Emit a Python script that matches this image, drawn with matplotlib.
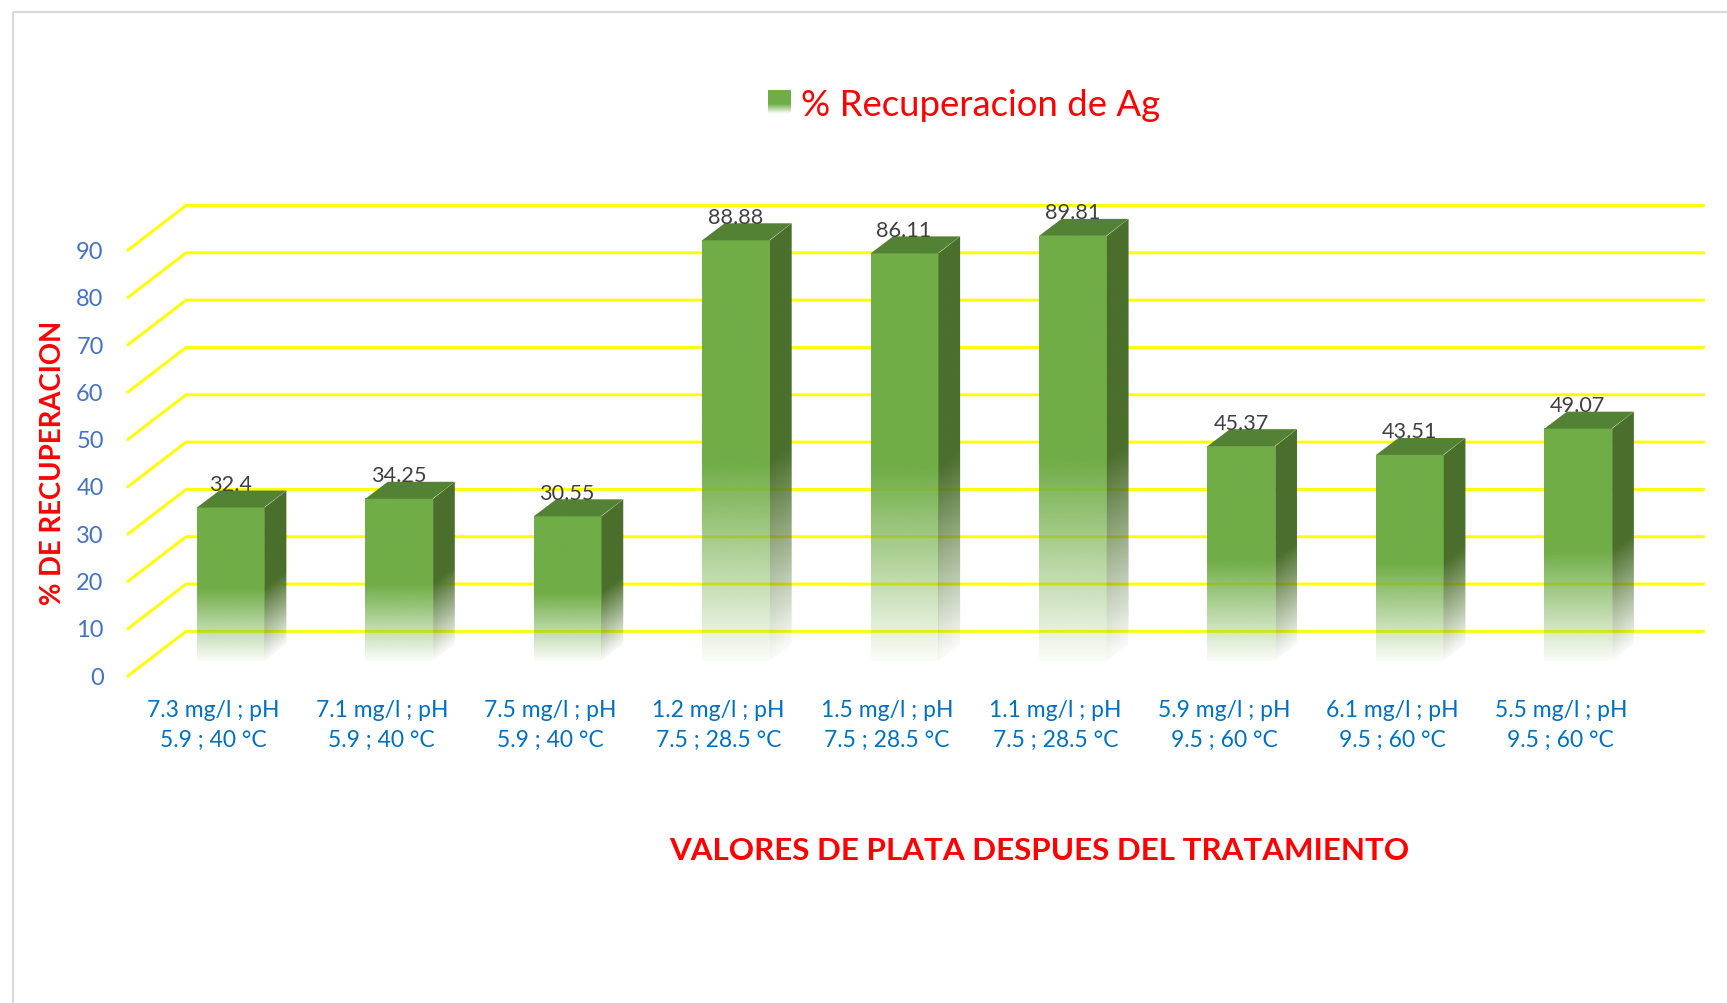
import matplotlib
matplotlib.use('Agg')
import matplotlib.pyplot as plt
from matplotlib.legend_handler import HandlerBase
from matplotlib.lines import Line2D
from matplotlib.patches import Patch, Polygon, Rectangle
import numpy as np

categories = [
    '7.3 mg/l ; pH\n5.9 ; 40 °C', '7.1 mg/l ; pH\n5.9 ; 40 °C', '7.5 mg/l ; pH\n5.9 ; 40 °C',
    '1.2 mg/l ; pH\n7.5 ; 28.5 °C', '1.5 mg/l ; pH\n7.5 ; 28.5 °C', '1.1 mg/l ; pH\n7.5 ; 28.5 °C',
    '5.9 mg/l ; pH\n9.5 ; 60 °C', '6.1 mg/l ; pH\n9.5 ; 60 °C', '5.5 mg/l ; pH\n9.5 ; 60 °C',
]
recuperacion = [32.4, 34.25, 30.55, 88.88, 86.11, 89.81, 45.37, 43.51, 49.07]
y_ticks = [0, 10, 20, 30, 40, 50, 60, 70, 80, 90]

W, H = 1727, 1003
GREEN = (0x70 / 255, 0xAD / 255, 0x47 / 255)
DARK = (0x4B / 255, 0x6F / 255, 0x2C / 255)
TOP = '#548235'

# pixel scale of the front plane
PX_X = 168.4
PX_Y = 4.73
dx = lambda px: px / PX_X
dy = lambda px: px / PX_Y


def fade(fr):
    # opacity against the fraction of the bar height
    return np.clip(0.03 + fr / 0.47 * 0.97, 0, 1)


plt.rcParams['font.family'] = ['Lato', 'DejaVu Sans']

fig = plt.figure(figsize=((W + 0.4) / 100, (H + 0.4) / 100), dpi=100, facecolor='white')
ax = fig.add_axes([128 / W, (H - 676) / H, (1703 - 128) / W, (676 - 250.3) / H])
ax.set_xlim((128 - 213.3) / PX_X, (1703 - 213.3) / PX_X)
ax.set_ylim(0, 90)
ax.patch.set_visible(False)
for s in ax.spines.values():
    s.set_visible(False)

# floor/wall gridlines
x0 = ax.get_xlim()[0]
x1 = ax.get_xlim()[1]
for v in y_ticks:
    ax.plot([x0, x0 + dx(58), x1], [v, v + dy(44.5), v + dy(44.5)], color='#FFFF00',
            lw=2.1, clip_on=False, zorder=1, solid_joinstyle='miter')

# bars
bar_w = dx(67)
shift = dx(17 - 33.5)  # left edge of the bar relative to the tick
base = dy(15)
depth_x = dx(22.5)
depth_y = dy(17)
for i, val in enumerate(recuperacion):
    left = i + shift
    right = left + bar_w
    bottom = base
    top = base + val

    # front face
    fr = np.linspace(1, 0, 300)[:, None]
    img = np.zeros((300, 1, 4))
    img[..., :3] = GREEN
    img[..., 3] = fade(fr)
    ax.imshow(img, extent=(left, right, bottom, top), aspect='auto', zorder=3,
              interpolation='bilinear', clip_on=False)

    # side face, fade runs along the slanted edge
    yy = np.linspace(top + depth_y, bottom, 300)
    xx = np.linspace(0, 1, 30)
    gx, gy = np.meshgrid(xx, yy)
    fr = (gy - bottom - gx * depth_y) / val
    img = np.zeros((300, 30, 4))
    img[..., :3] = DARK
    img[..., 3] = fade(np.clip(fr, 0, 1))
    im = ax.imshow(img, extent=(right, right + depth_x, bottom, top + depth_y), aspect='auto',
                   zorder=3, interpolation='bilinear')
    side = Polygon([(right + dx(0.8), bottom), (right + depth_x, bottom + depth_y),
                    (right + depth_x, top + depth_y), (right + dx(0.8), top)], closed=True,
                   transform=ax.transData, fc='none', ec='none', clip_on=False)
    ax.add_patch(side)
    im.set_clip_box(fig.bbox)
    im.set_clip_path(side)

    # top face
    ax.add_patch(Polygon([(left, top), (right, top), (right + depth_x, top + depth_y),
                          (left + depth_x, top + depth_y)], closed=True, fc=TOP, ec='none',
                         zorder=4, clip_on=False))

    ax.text((left + right) / 2, top + depth_y, f'{val:g}', ha='center', va='baseline',
            fontsize=15.6, color='#404040', zorder=6, clip_on=False)

ax.set_xlim(x0, x1)
ax.set_ylim(0, 90)

ax.set_yticks(y_ticks)
ax.tick_params(axis='y', length=0, pad=17.5, labelsize=17, labelcolor='#4472C4')
ax.set_xticks(range(len(categories)))
ax.set_xticklabels(categories, linespacing=1.55)
ax.tick_params(axis='x', length=0, pad=17, labelsize=16.5, labelcolor='#0070C0')


class GradientHandler(HandlerBase):
    def create_artists(self, legend, orig_handle, xdescent, ydescent, width, height, fontsize, trans):
        out = []
        n = 24
        for k in range(n):
            fr = k / n
            out.append(Rectangle((-xdescent, -ydescent + height * fr), width, height / n + 0.2,
                                 fc=GREEN, ec='none', alpha=float(np.clip(fr / 0.4, 0.03, 1)),
                                 transform=trans))
        return out


handle = Patch(color=GREEN, label='% Recuperacion de Ag')
fig.legend(handles=[handle], loc='center', bbox_to_anchor=(964 / W, 1 - 105 / H), frameon=False,
           fontsize=26.3, labelcolor='#FF0000', handlelength=0.63, handleheight=0.63, handletextpad=0.27,
           handler_map={Patch: GradientHandler()})

fig.text(53 / W, 1 - 463 / H, '% DE RECUPERACION', rotation=90, ha='center', va='center',
         fontsize=19.8, fontweight='bold', color='#FF0000')
fig.text(1039 / W, 1 - 851 / H, 'VALORES DE PLATA DESPUES DEL TRATAMIENTO', ha='center', va='center',
         fontsize=22.6, fontweight='bold', color='#FF0000')

# picture frame on the top and left
fig.add_artist(Line2D([13 / W, 13 / W, 1], [0, 1 - 12 / H, 1 - 12 / H], color='#D9D9D9', lw=1.5))

fig.savefig('out.png', dpi=100)
